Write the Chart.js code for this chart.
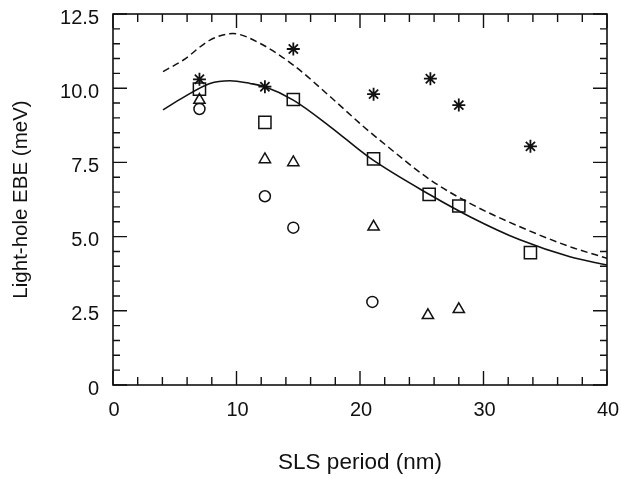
<!DOCTYPE html>
<html>
<head>
<meta charset="utf-8">
<script src="https://cdn.jsdelivr.net/npm/chart.js@4.4.1/dist/chart.umd.min.js"></script>
<style>
html,body{margin:0;padding:0;background:#fff;}
#wrap{width:621px;height:479px;}
</style>
</head>
<body>
<div id="wrap"><canvas id="c" width="621" height="479"></canvas></div>
<script>
// ---- data ----
const starX = [7.0, 12.3, 14.6, 21.1, 25.7, 28.0, 33.8];
const starY = [10.3, 10.05, 11.32, 9.8, 10.32, 9.43, 8.04];
const squareX = [7.0, 12.3, 14.6, 21.1, 25.6, 28.0, 33.8];
const squareY = [9.97, 8.85, 9.62, 7.62, 6.42, 6.03, 4.46];
const triangleX = [7.0, 12.3, 14.6, 21.1, 25.5, 28.0];
const triangleY = [9.6, 7.6, 7.5, 5.33, 2.35, 2.55];
const circleX = [7.0, 12.3, 14.6, 21.0];
const circleY = [9.3, 6.36, 5.3, 2.8];
const solidX = [4.05, 5.7, 7.85, 9.47, 11.1, 12.3, 14.6, 17.6, 20.8, 25.7, 28.9, 32.95, 37.0, 40.0];
const solidY = [9.27, 9.69, 10.16, 10.25, 10.16, 10.05, 9.6, 8.7, 7.65, 6.4, 5.67, 4.89, 4.32, 4.04];
const dashX = [4.05, 5.7, 7.85, 9.7, 11.9, 14.6, 17.6, 20.3, 21.6, 25.7, 28.9, 32.95, 37.0, 40.0];
const dashY = [10.56, 10.95, 11.62, 11.84, 11.51, 10.78, 9.71, 8.7, 8.25, 6.91, 6.12, 5.33, 4.66, 4.27];
const xTickLabels = ['0', '10', '20', '30', '40'];
const yTickLabels = ['0', '2.5', '5.0', '7.5', '10.0', '12.5'];
const xTitle = 'SLS period (nm)';
const yTitle = 'Light-hole EBE (meV)';

const pts = (xs, ys) => xs.map((x, i) => ({x: x, y: ys[i]}));
const INK = '#111';
const FONT = "'Liberation Sans', Arial, Helvetica, sans-serif";

const tickPlugin = {
  id: 'frameTicks',
  afterDraw(chart) {
    const ctx = chart.ctx, a = chart.chartArea;
    const xs = chart.scales.x, ys = chart.scales.y;
    ctx.save();
    ctx.strokeStyle = INK;
    ctx.lineWidth = 1.6;
    ctx.strokeRect(a.left, a.top, a.right - a.left, a.bottom - a.top);
    ctx.lineWidth = 1.4;
    ctx.beginPath();
    for (let v = 0; v <= 40.001; v += 2) {
      const p = xs.getPixelForValue(v);
      const len = (Math.abs(v % 10) < 1e-6) ? 14 : 8;
      ctx.moveTo(p, a.bottom); ctx.lineTo(p, a.bottom - len);
      ctx.moveTo(p, a.top); ctx.lineTo(p, a.top + len);
    }
    for (let k = 0; k <= 25; k++) {
      const v = k * 0.5;
      const p = ys.getPixelForValue(v);
      const len = (k % 5 === 0) ? 14 : 7;
      ctx.moveTo(a.left, p); ctx.lineTo(a.left + len, p);
      ctx.moveTo(a.right, p); ctx.lineTo(a.right - len, p);
    }
    ctx.stroke();
    ctx.restore();
  }
};

const markerBase = {
  showLine: false,
  borderColor: INK,
  backgroundColor: 'rgba(0,0,0,0)',
  pointHoverRadius: 0
};

new Chart(document.getElementById('c'), {
  type: 'scatter',
  data: {
    datasets: [
      {
        data: pts(dashX, dashY), showLine: true, borderColor: INK, borderWidth: 1.5,
        borderDash: [7, 4], pointRadius: 0, cubicInterpolationMode: 'monotone', fill: false
      },
      {
        data: pts(solidX, solidY), showLine: true, borderColor: INK, borderWidth: 1.6,
        pointRadius: 0, cubicInterpolationMode: 'monotone', fill: false
      },
      Object.assign({data: pts(starX, starY), pointStyle: 'star', pointRadius: 6.5, pointBorderWidth: 1.8}, markerBase),
      Object.assign({data: pts(squareX, squareY), pointStyle: 'rect', pointRadius: 8.6, pointBorderWidth: 1.5}, markerBase),
      Object.assign({data: pts(triangleX, triangleY), pointStyle: 'triangle', pointRadius: 6.5, pointBorderWidth: 1.5}, markerBase),
      Object.assign({data: pts(circleX, circleY), pointStyle: 'circle', pointRadius: 5.5, pointBorderWidth: 1.5}, markerBase)
    ]
  },
  options: {
    responsive: false,
    animation: false,
    devicePixelRatio: 1,
    layout: {padding: {left: 0, top: 14, right: 14, bottom: 0}},
    plugins: {legend: {display: false}, tooltip: {enabled: false}},
    scales: {
      x: {
        type: 'linear', min: 0, max: 40,
        afterFit(s) { s.height = 94; s.paddingLeft = 0; s.paddingRight = 0; },
        grid: {display: false, drawTicks: false},
        border: {display: false},
        afterBuildTicks(s) { s.ticks = xTickLabels.map(t => ({value: parseFloat(t)})); },
        ticks: {
          padding: 13, labelOffset: 1, color: INK, maxRotation: 0, autoSkip: false,
          font: {family: FONT, size: 20},
          callback: (v, i) => xTickLabels[i]
        },
        title: {display: true, text: xTitle, color: INK, font: {family: FONT, size: 22.5}, padding: {top: 0, bottom: 3}}
      },
      y: {
        type: 'linear', min: 0, max: 12.5,
        afterFit(s) { s.width = 113; s.paddingTop = 0; s.paddingBottom = 0; },
        grid: {display: false, drawTicks: false},
        border: {display: false},
        afterBuildTicks(s) { s.ticks = yTickLabels.map(t => ({value: parseFloat(t)})); },
        ticks: {
          padding: 14, labelOffset: 4, color: INK, autoSkip: false,
          font: {family: FONT, size: 20},
          callback: (v, i) => yTickLabels[i]
        },
        title: {display: true, text: yTitle, color: INK, font: {family: FONT, size: 20.5}, padding: {top: 9, bottom: 0}}
      }
    }
  },
  plugins: [tickPlugin]
});
</script>
</body>
</html>
